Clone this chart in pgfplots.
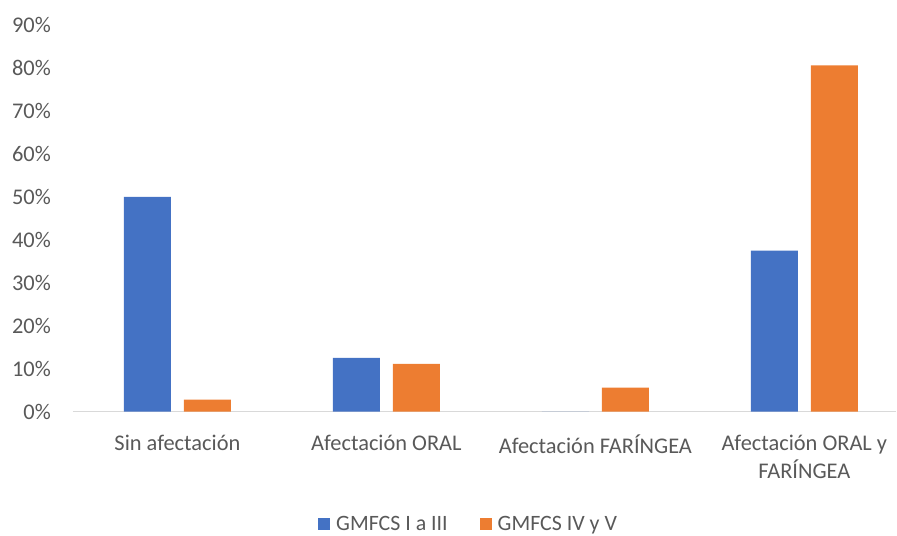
\documentclass[border=0pt]{standalone}
\usepackage{pgfplots}
\pgfplotsset{compat=1.18}
\usepackage{fontspec}
\setmainfont{Carlito}
\definecolor{serieA}{HTML}{4472C4}
\definecolor{serieB}{HTML}{ED7D31}
\definecolor{txtgray}{HTML}{595959}
\definecolor{axgray}{HTML}{D9D9D9}
\begin{document}
\begin{tikzpicture}
\begin{axis}[
  scale only axis,
  width=824bp, height=387bp,
  ybar,
  bar width=47bp,
  xmin=-0.5, xmax=3.44,
  ymin=0, ymax=90,
  enlargelimits=false,
  xtick={0,1,2,3},
  xticklabels={Sin afectación, Afectación ORAL, Afectación FARÍNGEA, {Afectación ORAL y\\FARÍNGEA}},
  ytick={0,10,...,90},
  yticklabels={0\%,10\%,20\%,30\%,40\%,50\%,60\%,70\%,80\%,90\%},
  separate axis lines,
  axis x line*=bottom,
  axis y line*=left,
  x axis line style={draw=axgray, line width=1.5bp, -},
  y axis line style={draw=none},
  major tick length=0pt,
  tick style={draw=none},
  tick label style={font=\fontsize{22.5}{28}\selectfont, text=txtgray},
  xticklabel style={align=center, anchor=north, inner sep=0pt, yshift=-23bp},
  yticklabel style={anchor=east, inner sep=0pt, xshift=-22bp},
  legend style={draw=none, font=\fontsize{22}{26}\selectfont, text=txtgray,
    at={(axis description cs:0.4806,-0.29)}, anchor=center,
    legend columns=2,
    /tikz/every odd column/.append style={column sep=4bp},
    /tikz/every even column/.append style={column sep=30bp}},
  legend image code/.code={\path[#1] (0bp,-6bp) rectangle (12bp,6bp);},
]
\addplot[fill=serieA, draw=none, bar shift=-30bp] coordinates {(0,50) (1,12.5) (2,0) (3,37.5)};
\addplot[fill=serieB, draw=none, bar shift=30bp] coordinates {(0,2.8) (1,11.1) (2,5.6) (3,80.6)};
\legend{GMFCS I a III, GMFCS IV y V}
\end{axis}
\path (-73bp,-122bp) rectangle (824bp,412bp);
\end{tikzpicture}
\end{document}
